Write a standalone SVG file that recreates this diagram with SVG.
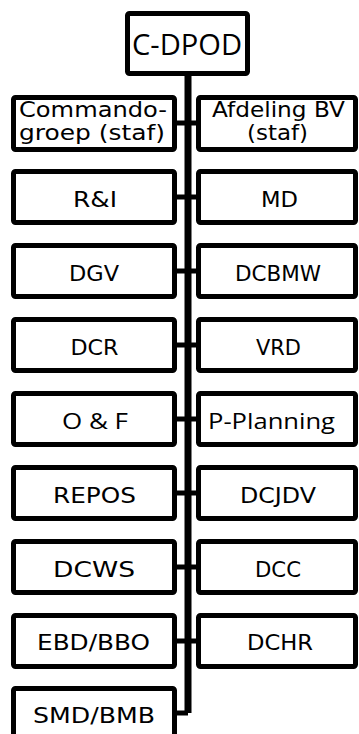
<svg xmlns="http://www.w3.org/2000/svg" width="359" height="734" viewBox="0 0 359 734">
<style>
.box{fill:#fff;stroke:#000;stroke-width:5;}
.t{font-family:"DejaVu Sans",sans-serif;font-size:21px;fill:#000;text-anchor:middle;}
.t1{font-family:"DejaVu Sans",sans-serif;font-size:21px;fill:#000;text-anchor:middle;}
.o{font-family:"Open Sans","Noto Sans",sans-serif;font-size:21px;fill:#000;text-anchor:middle;}
.big{font-family:"Open Sans","Liberation Sans",sans-serif;font-size:30px;fill:#000;text-anchor:middle;}
.c{stroke:#000;fill:none;}
</style>
<rect width="359" height="734" fill="#fff"/>
<g id="connectors">
<path class="c" stroke-width="7" d="M188 74V713"/>
<path class="c" stroke-width="5" d="M188 713H175"/>
<path class="c" stroke-width="5" d="M175 123H198M175 197H198M175 271H198M175 345H198M175 419H198M175 493H198M175 567H198M175 641H198"/>
</g>
<g id="cdpod"><rect class="box" x="127.5" y="13.5" width="120" height="60" rx="2"/><text class="big" x="187" y="55" textLength="110" lengthAdjust="spacingAndGlyphs">C-DPOD</text></g>
<g id="commandogroep"><rect class="box" x="13.5" y="97.5" width="161" height="52" rx="2"/><text class="t1" x="93" y="117" textLength="148" lengthAdjust="spacingAndGlyphs">Commando-</text><text class="t1" x="92" y="140" textLength="146" lengthAdjust="spacingAndGlyphs">groep (staf)</text></g>
<g id="afdelingbv"><rect class="box" x="198.5" y="97.5" width="157" height="52" rx="2"/><text class="t1" x="278.5" y="117" textLength="133" lengthAdjust="spacingAndGlyphs">Afdeling BV</text><text class="t1" x="277.5" y="140" textLength="61" lengthAdjust="spacingAndGlyphs">(staf)</text></g>
<g id="ri"><rect class="box" x="13.5" y="171.5" width="161" height="51" rx="2"/><text class="t" x="95" y="206.5" textLength="44" lengthAdjust="spacingAndGlyphs">R&amp;I</text></g>
<g id="md"><rect class="box" x="198.5" y="171.5" width="157" height="51" rx="2"/><text class="t" x="279.5" y="206.5" textLength="37" lengthAdjust="spacingAndGlyphs">MD</text></g>
<g id="dgv"><rect class="box" x="13.5" y="245.5" width="161" height="51" rx="2"/><text class="t" x="94" y="280.5" textLength="50" lengthAdjust="spacingAndGlyphs">DGV</text></g>
<g id="dcbmw"><rect class="box" x="198.5" y="245.5" width="157" height="51" rx="2"/><text class="t" x="278" y="280.5" textLength="86" lengthAdjust="spacingAndGlyphs">DCBMW</text></g>
<g id="dcr"><rect class="box" x="13.5" y="319.5" width="161" height="51" rx="2"/><text class="t" x="94.5" y="354.5" textLength="48" lengthAdjust="spacingAndGlyphs">DCR</text></g>
<g id="vrd"><rect class="box" x="198.5" y="319.5" width="157" height="51" rx="2"/><text class="t" x="278.5" y="354.5" textLength="45" lengthAdjust="spacingAndGlyphs">VRD</text></g>
<g id="of"><rect class="box" x="13.5" y="393.5" width="161" height="51" rx="2"/><text class="o" x="95" y="428.5" textLength="66" lengthAdjust="spacingAndGlyphs">O &amp; F</text></g>
<g id="pplanning"><rect class="box" x="198.5" y="393.5" width="157" height="51" rx="2"/><text class="o" x="271.5" y="428.5" textLength="127" lengthAdjust="spacingAndGlyphs">P-Planning</text></g>
<g id="repos"><rect class="box" x="13.5" y="467.5" width="161" height="51" rx="2"/><text class="t" x="94.5" y="502.5" textLength="83" lengthAdjust="spacingAndGlyphs">REPOS</text></g>
<g id="dcjdv"><rect class="box" x="198.5" y="467.5" width="157" height="51" rx="2"/><text class="t" x="278" y="502.5" textLength="76" lengthAdjust="spacingAndGlyphs">DCJDV</text></g>
<g id="dcws"><rect class="box" x="13.5" y="541.5" width="161" height="51" rx="2"/><text class="t" x="94" y="576.5" textLength="82" lengthAdjust="spacingAndGlyphs">DCWS</text></g>
<g id="dcc"><rect class="box" x="198.5" y="541.5" width="157" height="51" rx="2"/><text class="t" x="278" y="576.5" textLength="46" lengthAdjust="spacingAndGlyphs">DCC</text></g>
<g id="ebdbbo"><rect class="box" x="13.5" y="615.5" width="161" height="51" rx="2"/><text class="t" x="93.5" y="649.5" textLength="113" lengthAdjust="spacingAndGlyphs">EBD/BBO</text></g>
<g id="dchr"><rect class="box" x="198.5" y="615.5" width="157" height="51" rx="2"/><text class="t" x="280" y="649.5" textLength="66" lengthAdjust="spacingAndGlyphs">DCHR</text></g>
<g id="smdbmb"><rect class="box" x="13.5" y="688.5" width="161" height="52" rx="2"/><text class="t" x="94" y="723" textLength="122" lengthAdjust="spacingAndGlyphs">SMD/BMB</text></g>
</svg>
